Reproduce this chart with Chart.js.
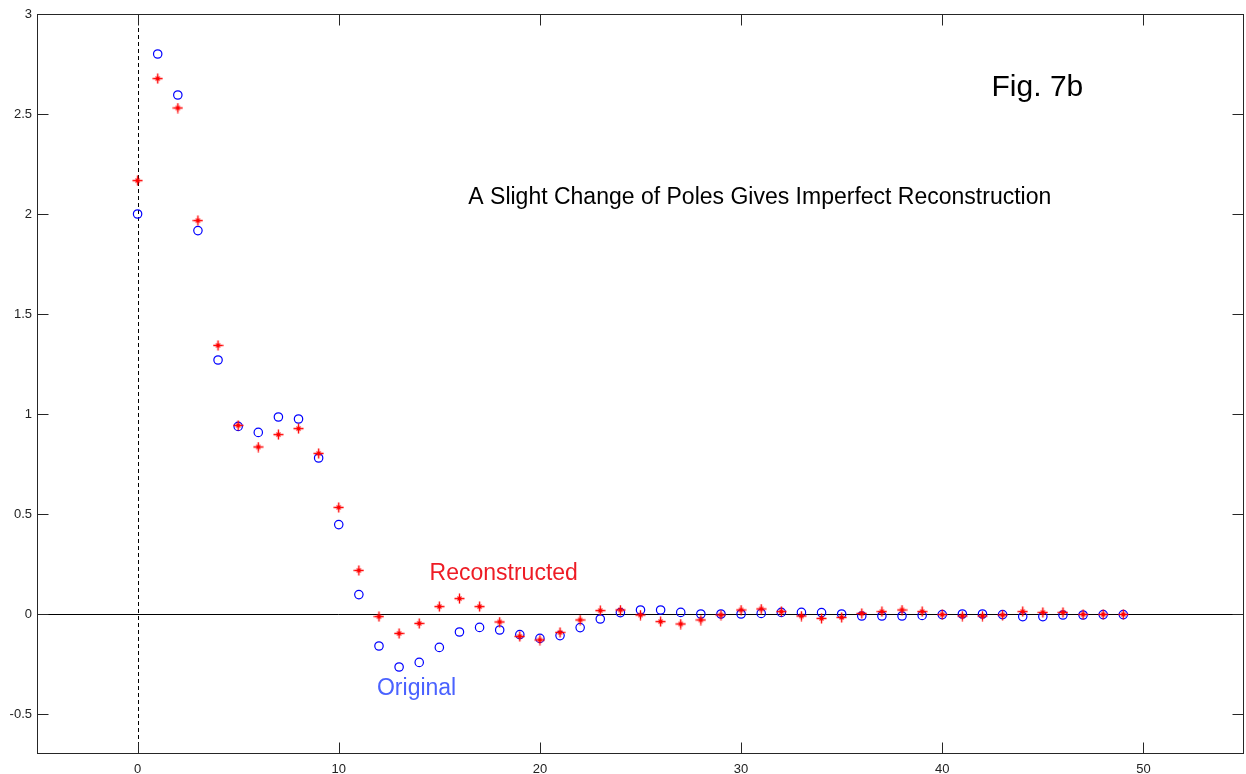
<!DOCTYPE html>
<html><head><meta charset="utf-8">
<script src="https://cdn.jsdelivr.net/npm/chart.js@4.4.1/dist/chart.umd.min.js"></script>
<style>html,body{margin:0;padding:0;background:#fff;overflow:hidden;} #wrap{width:1246px;height:774px;position:relative;overflow:hidden;}</style>
</head><body><div id="wrap"><canvas id="c" width="1250" height="774"></canvas></div>
<script>
// ---- data ----
const sampleIndex = [0,1,2,3,4,5,6,7,8,9,10,11,12,13,14,15,16,17,18,19,20,21,22,23,24,25,26,27,28,29,30,31,32,33,34,35,36,37,38,39,40,41,42,43,44,45,46,47,48,49];
const originalValues = [2.0,2.80,2.595,1.917,1.27,0.938,0.908,0.985,0.975,0.78,
  0.447,0.097,-0.16,-0.265,-0.242,-0.167,-0.09,-0.067,-0.08,-0.103,
  -0.122,-0.108,-0.068,-0.025,0.007,0.02,0.02,0.008,0.0,0.0,
  0.0,0.003,0.008,0.008,0.007,0.0,-0.01,-0.01,-0.01,-0.007,
  -0.003,0.0,0.0,-0.003,-0.013,-0.013,-0.005,-0.005,-0.003,-0.003];
const reconstructedValues = [2.167,2.677,2.53,1.967,1.343,0.943,0.835,0.897,0.927,0.803,
  0.533,0.218,-0.013,-0.097,-0.047,0.037,0.077,0.037,-0.04,-0.112,
  -0.13,-0.092,-0.03,0.017,0.02,-0.005,-0.038,-0.05,-0.03,-0.005,
  0.02,0.025,0.012,-0.01,-0.022,-0.017,0.003,0.012,0.02,0.012,
  -0.003,-0.01,-0.01,-0.005,0.012,0.008,0.008,-0.002,-0.002,-0.002];
const xTickValues = [0,10,20,30,40,50];
const yTickValues = [-0.5,0,0.5,1,1.5,2,2.5,3];
const xRange = [-5,55];
const yRange = [-0.7,3];
const annotationTexts = ["Fig. 7b","A Slight Change of Poles Gives Imperfect Reconstruction","Reconstructed","Original"];
const annotationX = [44.73,30.93,18.2,13.87];
const annotationY = [2.632,2.081,0.2015,-0.3735];
const annotationColors = ["#000000","#000000","#ee1c25","#4a62ff"];
const annotationSizes = [30,23,23,23];

const toPoints = (xs, ys) => xs.map((x,i)=>({x:x,y:ys[i]}));

// plus-like asterisk marker (MATLAB style)
function makeStar(color){
  const c=document.createElement('canvas'); c.width=11; c.height=11;
  const g=c.getContext('2d');
  g.strokeStyle=color; g.lineWidth=1.4;
  g.beginPath();
  g.moveTo(5.5,0.5); g.lineTo(5.5,10.5);
  g.moveTo(0.5,5.5); g.lineTo(10.5,5.5);
  g.stroke();
  g.lineWidth=1.1;
  g.beginPath();
  g.moveTo(3.5,3.5); g.lineTo(7.5,7.5);
  g.moveTo(7.5,3.5); g.lineTo(3.5,7.5);
  g.stroke();
  return c;
}

const frame = {
  id:'frame',
  beforeDatasetsDraw(chart){
    const {ctx, chartArea:a, scales:{x,y}} = chart;
    ctx.save();
    const y0 = Math.round(y.getPixelForValue(0))+0.5;
    ctx.strokeStyle='#000'; ctx.lineWidth=1;
    ctx.beginPath(); ctx.moveTo(a.left,y0); ctx.lineTo(a.right,y0); ctx.stroke();
    const x0 = Math.round(x.getPixelForValue(0))+0.5;
    ctx.setLineDash([4,3]);
    ctx.beginPath(); ctx.moveTo(x0,a.top); ctx.lineTo(x0,a.bottom); ctx.stroke();
    ctx.restore();
  },
  afterDraw(chart){
    const {ctx, chartArea:a, scales:{x,y}} = chart;
    ctx.save();
    ctx.strokeStyle='#262626'; ctx.lineWidth=1;
    const L=Math.round(a.left)+0.5, R=Math.round(a.right)-0.5, T=Math.round(a.top)+0.5, B=Math.round(a.bottom)-0.5;
    ctx.strokeRect(L,T,R-L,B-T);
    const tl=11;
    ctx.beginPath();
    xTickValues.forEach(v=>{
      const px=Math.round(x.getPixelForValue(v))+0.5;
      ctx.moveTo(px,B); ctx.lineTo(px,B-tl);
      ctx.moveTo(px,T); ctx.lineTo(px,T+tl);
    });
    yTickValues.forEach(v=>{
      const py=Math.round(y.getPixelForValue(v))+0.5;
      ctx.moveTo(L,py); ctx.lineTo(L+tl,py);
      ctx.moveTo(R,py); ctx.lineTo(R-tl,py);
    });
    ctx.stroke();
    ctx.textAlign='center'; ctx.textBaseline='middle';
    annotationTexts.forEach((t,i)=>{
      ctx.fillStyle=annotationColors[i];
      ctx.font=annotationSizes[i]+'px "Liberation Sans", Arial, sans-serif';
      ctx.fillText(t, x.getPixelForValue(annotationX[i]), y.getPixelForValue(annotationY[i]));
    });
    ctx.restore();
  }
};

new Chart(document.getElementById('c'), {
  type:'scatter',
  data:{
    datasets:[
      {label:'Original', data:toPoints(sampleIndex, originalValues), order:1,
       pointStyle:'circle', pointRadius:4.2, pointHoverRadius:4.2, borderColor:'#0000ff', backgroundColor:'rgba(0,0,0,0)', borderWidth:1.2},
      {label:'Reconstructed', data:toPoints(sampleIndex, reconstructedValues), order:0,
       pointStyle:makeStar('#ff0000'), pointRadius:5, pointHoverRadius:5, borderColor:'#ff0000', backgroundColor:'#ff0000'}
    ]
  },
  options:{
    responsive:false, animation:false, devicePixelRatio:1,
    layout:{padding:{top:14,right:2,left:0,bottom:0}},
    plugins:{legend:{display:false}, tooltip:{enabled:false}},
    scales:{
      x:{type:'linear', min:xRange[0], max:xRange[1],
        afterBuildTicks:s=>{s.ticks=xTickValues.map(v=>({value:v}));},
        afterFit:s=>{s.height=20; s.paddingLeft=0; s.paddingRight=0;},
        grid:{display:false, drawTicks:false}, border:{display:false},
        ticks:{padding:8, color:'#222', font:{family:'"Liberation Sans", Arial, sans-serif', size:13}, callback:v=>String(v), maxRotation:0}},
      y:{type:'linear', min:yRange[0], max:yRange[1],
        afterBuildTicks:s=>{s.ticks=yTickValues.map(v=>({value:v}));},
        afterFit:s=>{s.width=37; s.paddingTop=0; s.paddingBottom=0;},
        grid:{display:false, drawTicks:false}, border:{display:false},
        ticks:{padding:5, color:'#222', font:{family:'"Liberation Sans", Arial, sans-serif', size:13}, callback:v=>String(v)}}
    }
  },
  plugins:[frame]
});
</script>
</body></html>
